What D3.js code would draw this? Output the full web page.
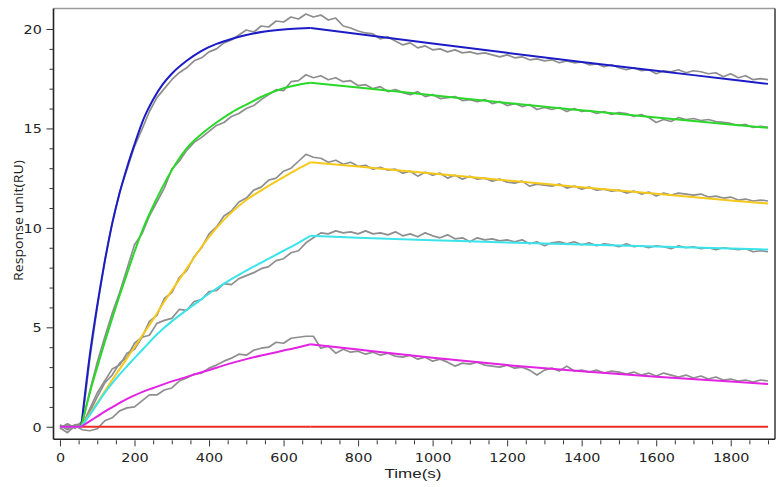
<!DOCTYPE html>
<html>
<head>
<meta charset="utf-8">
<script src="https://cdn.jsdelivr.net/npm/d3@7"></script>
<style>
  body { margin: 0; background: #fff; }
  svg { display: block; }
</style>
</head>
<body>
<div id="chart"></div>
<script>
// Measured sensorgrams (grey), sampled every 20 s
var grayTime = [0, 20, 40, 60, 80, 100, 120, 140, 160, 180,
  200, 220, 240, 260, 280, 300, 320, 340, 360, 380,
  400, 420, 440, 460, 480, 500, 520, 540, 560, 580,
  600, 620, 640, 660, 680, 700, 720, 740, 760, 780,
  800, 820, 840, 860, 880, 900, 920, 940, 960, 980,
  1000, 1020, 1040, 1060, 1080, 1100, 1120, 1140, 1160, 1180,
  1200, 1220, 1240, 1260, 1280, 1300, 1320, 1340, 1360, 1380,
  1400, 1420, 1440, 1460, 1480, 1500, 1520, 1540, 1560, 1580,
  1600, 1620, 1640, 1660, 1680, 1700, 1720, 1740, 1760, 1780,
  1800, 1820, 1840, 1860, 1880, 1900];

var blueRaw = [-0.05, 0.12, -0.08, 0.3, 3.4, 6.0, 8.3, 10.25, 11.8, 12.95,
  14.1, 14.95, 15.85, 16.55, 17.0, 17.45, 17.8, 18.05, 18.4, 18.55,
  18.85, 19.0, 19.3, 19.45, 19.7, 19.95, 19.85, 20.15, 20.1, 20.4,
  20.35, 20.6, 20.5, 20.75, 20.6, 20.7, 20.45, 20.55, 20.15, 20.05,
  19.9, 19.8, 19.75, 19.5, 19.6, 19.4, 19.2, 19.3, 19.05, 19.15,
  18.95, 19.0, 18.85, 18.95, 18.8, 18.85, 18.75, 18.8, 18.7, 18.6,
  18.7, 18.55, 18.6, 18.45, 18.5, 18.4, 18.45, 18.3, 18.4, 18.3,
  18.35, 18.2, 18.25, 18.1, 18.2, 18.05, 17.95, 18.05, 17.9, 17.95,
  17.75, 17.9, 17.85, 17.95, 17.8, 17.9, 17.85, 17.75, 17.8, 17.6,
  17.75, 17.55, 17.65, 17.45, 17.5, 17.45];

var greenRaw = [0.05, -0.12, 0.1, 0.15, 1.8, 3.25, 4.5, 5.7, 6.75, 7.95,
  9.15, 9.7, 10.6, 11.3, 12.0, 12.95, 13.35, 13.9, 14.3, 14.55,
  14.85, 15.15, 15.3, 15.6, 15.75, 16.0, 16.15, 16.45, 16.7, 16.95,
  16.9, 17.35, 17.4, 17.7, 17.55, 17.65, 17.45, 17.55, 17.35, 17.4,
  17.15, 17.2, 17.0, 17.1, 16.85, 16.95, 16.8, 16.7, 16.85, 16.6,
  16.7, 16.5, 16.55, 16.6, 16.4, 16.45, 16.35, 16.45, 16.25, 16.35,
  16.15, 16.25, 16.1, 16.2, 15.95, 16.05, 15.95, 16.05, 15.85, 16.0,
  15.85, 15.9, 15.75, 15.85, 15.7, 15.8, 15.75, 15.6, 15.7, 15.55,
  15.3, 15.45, 15.35, 15.55, 15.45, 15.5, 15.4, 15.45, 15.35, 15.3,
  15.25, 15.15, 15.2, 15.05, 15.1, 15.05];

var yellowRaw = [-0.1, 0.15, -0.05, 0.1, 0.75, 1.5, 2.2, 2.6, 3.2, 3.5,
  4.2, 4.5, 5.3, 5.6, 6.45, 6.75, 7.5, 7.85, 8.55, 9.0,
  9.7, 10.05, 10.6, 10.85, 11.3, 11.5, 11.9, 12.05, 12.4, 12.5,
  12.85, 13.0, 13.35, 13.7, 13.55, 13.5, 13.3, 13.4, 13.2, 13.3,
  13.1, 13.15, 12.95, 13.05, 12.9, 12.95, 12.75, 12.85, 12.6, 12.8,
  12.65, 12.75, 12.5, 12.65, 12.45, 12.6, 12.45, 12.5, 12.35, 12.45,
  12.3, 12.25, 12.35, 12.1, 12.2, 12.15, 12.1, 12.2, 12.0, 12.1,
  11.95, 12.05, 11.9, 11.95, 11.85, 11.9, 11.75, 11.85, 11.7, 11.8,
  11.6, 11.75, 11.65, 11.75, 11.7, 11.65, 11.7, 11.55, 11.6, 11.5,
  11.55, 11.4, 11.45, 11.35, 11.4, 11.35];

var cyanRaw = [0.1, -0.15, 0.05, 0.05, 0.9, 1.7, 2.3, 2.9, 3.1, 3.7,
  3.9, 4.5, 4.6, 5.2, 5.35, 5.45, 5.9, 5.85, 6.3, 6.4,
  6.8, 6.85, 7.2, 7.15, 7.45, 7.6, 7.75, 7.95, 8.05, 8.35,
  8.45, 8.75, 8.85, 9.25, 9.5, 9.75, 9.7, 9.85, 9.75, 9.8,
  9.7, 9.85, 9.7, 9.75, 9.65, 9.8, 9.6, 9.7, 9.55, 9.75,
  9.6, 9.5, 9.65, 9.45, 9.5, 9.3, 9.5, 9.4, 9.45, 9.35,
  9.4, 9.3, 9.4, 9.2, 9.3, 9.1, 9.25, 9.3, 9.2, 9.3,
  9.15, 9.25, 9.1, 9.2, 9.15, 9.05, 9.2, 9.05, 9.1, 9.0,
  9.1, 9.05, 8.95, 9.1, 9.0, 9.05, 8.95, 9.0, 8.9, 9.0,
  8.95, 8.9, 8.95, 8.8, 8.85, 8.8];

var magentaRaw = [-0.05, -0.3, 0.05, -0.15, -0.2, -0.1, 0.3, 0.45, 0.8, 0.95,
  1.0, 1.3, 1.6, 1.6, 1.85, 1.95, 2.3, 2.45, 2.65, 2.7,
  2.95, 3.1, 3.3, 3.45, 3.65, 3.6, 3.85, 3.95, 4.0, 4.25,
  4.2, 4.45, 4.5, 4.55, 4.55, 3.95, 4.05, 3.7, 3.9, 3.75,
  3.8, 3.65, 3.75, 3.6, 3.7, 3.55, 3.5, 3.6, 3.4, 3.5,
  3.3, 3.4, 3.25, 3.05, 3.2, 3.15, 3.25, 3.1, 3.05, 3.0,
  3.1, 2.95, 3.0, 2.85, 2.6, 2.85, 2.95, 2.8, 3.05, 2.8,
  2.85, 2.75, 2.85, 2.7, 2.8, 2.75, 2.65, 2.75, 2.6, 2.7,
  2.55, 2.7, 2.6, 2.5, 2.6, 2.45, 2.55, 2.4, 2.5, 2.35,
  2.4, 2.3, 2.35, 2.25, 2.35, 2.3];

// Fitted curves
var fitTime = [0, 57, 80, 100, 120, 140, 160, 180, 200, 225, 250, 275, 300, 340, 380,
  420, 460, 500, 550, 600, 640, 672, 800, 1000, 1200, 1400, 1600, 1800, 1900];
var injectionStart = 57;
var injectionEnd = 672;

var blueFit = [0, 0, 3.6, 6.1, 8.3, 10.2, 11.75, 13.05, 14.2, 15.5, 16.45, 17.2, 17.75, 18.4, 18.9,
  19.25, 19.5, 19.7, 19.87, 19.97, 20.02, 20.05, 19.75, 19.27, 18.8, 18.34, 17.9, 17.46, 17.24];
var greenFit = [0, 0, 1.7, 3.0, 4.25, 5.45, 6.6, 7.7, 8.8, 10.05, 11.1, 12.05, 12.9, 14.0, 14.72,
  15.3, 15.8, 16.2, 16.67, 17.02, 17.2, 17.3, 17.06, 16.67, 16.28, 15.91, 15.55, 15.2, 15.03];
var yellowFit = [0, 0, 0.65, 1.2, 1.78, 2.35, 2.9, 3.45, 4.0, 4.7, 5.4, 6.15, 6.85, 7.95, 9.05,
  10.0, 10.78, 11.4, 12.0, 12.55, 12.98, 13.3, 13.09, 12.73, 12.38, 12.04, 11.71, 11.38, 11.22];
var cyanFit = [0, 0, 0.6, 1.15, 1.7, 2.18, 2.63, 3.05, 3.45, 3.95, 4.45, 4.9, 5.3, 5.87, 6.42,
  6.95, 7.42, 7.85, 8.35, 8.85, 9.25, 9.6, 9.5, 9.38, 9.26, 9.16, 9.06, 8.96, 8.91];
var magentaFit = [0, 0, 0.28, 0.52, 0.76, 0.98, 1.2, 1.4, 1.58, 1.78, 1.95, 2.12, 2.28, 2.51, 2.74,
  2.97, 3.2, 3.4, 3.62, 3.83, 4.0, 4.15, 3.88, 3.47, 3.1, 2.79, 2.52, 2.27, 2.15];
var redFit = [0, 0, 0, 0, 0, 0, 0, 0, 0, 0, 0, 0, 0, 0, 0,
  0, 0, 0, 0, 0, 0, 0, 0, 0, 0, 0, 0, 0, 0];

var xTicks = [0, 200, 400, 600, 800, 1000, 1200, 1400, 1600, 1800];
var yTicks = [0, 5, 10, 15, 20];

// Sizing
var width = 784, height = 487;
var plot = {left: 53.5, right: 775, top: 8.5, bottom: 439.3};

var svg = d3.select("#chart")
  .append("svg")
    .attr("width", width)
    .attr("height", height);

var x = d3.scaleLinear()
  .domain([-17.4, 1918.8])
  .range([plot.left, plot.right]);
var y = d3.scaleLinear()
  .domain([-0.63, 21.03])
  .range([plot.bottom, plot.top]);

svg.append("clipPath").attr("id", "clip")
  .append("rect")
    .attr("x", plot.left).attr("y", plot.top)
    .attr("width", plot.right - plot.left)
    .attr("height", plot.bottom - plot.top);

var line = d3.line()
  .x(function(d) { return x(d[0]); })
  .y(function(d) { return y(d[1]); });

var curves = svg.append("g").attr("clip-path", "url(#clip)");

// Grey measured data
[blueRaw, greenRaw, yellowRaw, cyanRaw, magentaRaw].forEach(function(vals) {
  curves.append("path")
    .datum(grayTime.map(function(t, i) { return [t, vals[i]]; }))
    .attr("fill", "none")
    .attr("stroke", "#8e8e8e")
    .attr("stroke-width", 1.7)
    .attr("stroke-linejoin", "round")
    .attr("d", line);
});

// Fits: baseline, association and dissociation pieces
var fits = [
  {vals: redFit, color: "#ee2b24"},
  {vals: blueFit, color: "#1c1cc6"},
  {vals: greenFit, color: "#2ad82a"},
  {vals: yellowFit, color: "#f6c81a"},
  {vals: cyanFit, color: "#3ae4ea"},
  {vals: magentaFit, color: "#e322e3"}
];

function piece(vals, t0, t1) {
  return fitTime.map(function(t, i) { return [t, vals[i]]; })
    .filter(function(d) { return d[0] >= t0 && d[0] <= t1; });
}

fits.forEach(function(f) {
  var parts = [
    {data: piece(f.vals, 0, injectionStart), curve: d3.curveLinear},
    {data: piece(f.vals, injectionStart, injectionEnd), curve: d3.curveMonotoneX},
    {data: piece(f.vals, injectionEnd, 1900), curve: d3.curveMonotoneX}
  ];
  parts.forEach(function(p) {
    curves.append("path")
      .datum(p.data)
      .attr("fill", "none")
      .attr("stroke", f.color)
      .attr("stroke-width", 2)
      .attr("d", line.curve(p.curve));
  });
});

// Frame
svg.append("line").attr("x1", plot.left).attr("x2", plot.right)
  .attr("y1", plot.top).attr("y2", plot.top)
  .attr("stroke", "#9a9a9a").attr("stroke-width", 1.6);
svg.append("line").attr("x1", plot.right).attr("x2", plot.right)
  .attr("y1", plot.top).attr("y2", plot.bottom)
  .attr("stroke", "#444").attr("stroke-width", 1.6);
svg.append("line").attr("x1", plot.left).attr("x2", plot.left)
  .attr("y1", plot.top).attr("y2", plot.bottom)
  .attr("stroke", "#222").attr("stroke-width", 1.6);
svg.append("line").attr("x1", plot.left).attr("x2", plot.right)
  .attr("y1", plot.bottom).attr("y2", plot.bottom)
  .attr("stroke", "#222").attr("stroke-width", 1.6);

// X axis
var xMinor = d3.range(0, 1901, 50).filter(function(v) { return v % 200 !== 0; });
svg.append("g")
  .attr("transform", "translate(0," + (plot.bottom + 1) + ")")
  .call(d3.axisBottom(x).tickValues(xMinor).tickSize(4).tickFormat(""))
  .call(function(g) { g.select(".domain").remove(); });
var xAxis = svg.append("g")
  .attr("transform", "translate(0," + (plot.bottom + 1) + ")")
  .call(d3.axisBottom(x).tickValues(xTicks).tickSize(6).tickFormat(d3.format("d")));
xAxis.select(".domain").remove();
xAxis.selectAll("text")
  .attr("y", 21.6).attr("dy", 0)
  .attr("transform", "scale(1.15,1)")
  .style("font-family", "'DejaVu Sans', Verdana, sans-serif")
  .style("font-size", "12.5px")
  .style("fill", "#222");

// Y axis
var yMinor = d3.range(1, 21).filter(function(v) { return v % 5 !== 0; });
svg.append("g")
  .attr("transform", "translate(" + plot.left + ",0)")
  .call(d3.axisLeft(y).tickValues(yMinor).tickSize(4).tickFormat(""))
  .call(function(g) { g.select(".domain").remove(); });
var yAxis = svg.append("g")
  .attr("transform", "translate(" + plot.left + ",0)")
  .call(d3.axisLeft(y).tickValues(yTicks).tickSize(7));
yAxis.select(".domain").remove();
yAxis.selectAll("text")
  .attr("x", -10.2).attr("dy", "0.34em")
  .attr("transform", "scale(1.15,1)")
  .style("font-family", "'DejaVu Sans', Verdana, sans-serif")
  .style("font-size", "12.5px")
  .style("fill", "#222");

svg.selectAll(".tick line").attr("stroke", "#333");

// Axis titles
svg.append("text")
  .attr("x", 413).attr("y", 477.5)
  .attr("text-anchor", "middle")
  .attr("textLength", 57).attr("lengthAdjust", "spacingAndGlyphs")
  .style("font-family", "'Liberation Sans', Arial, sans-serif")
  .style("font-size", "13.5px")
  .style("fill", "#222")
  .text("Time(s)");

svg.append("text")
  .attr("transform", "translate(23.3,220.5) rotate(-90)")
  .attr("text-anchor", "middle")
  .attr("textLength", 121).attr("lengthAdjust", "spacingAndGlyphs")
  .style("font-family", "'Open Sans', 'Noto Sans', sans-serif")
  .style("font-size", "12px")
  .style("fill", "#222")
  .text("Response unit(RU)");
</script>
</body>
</html>
